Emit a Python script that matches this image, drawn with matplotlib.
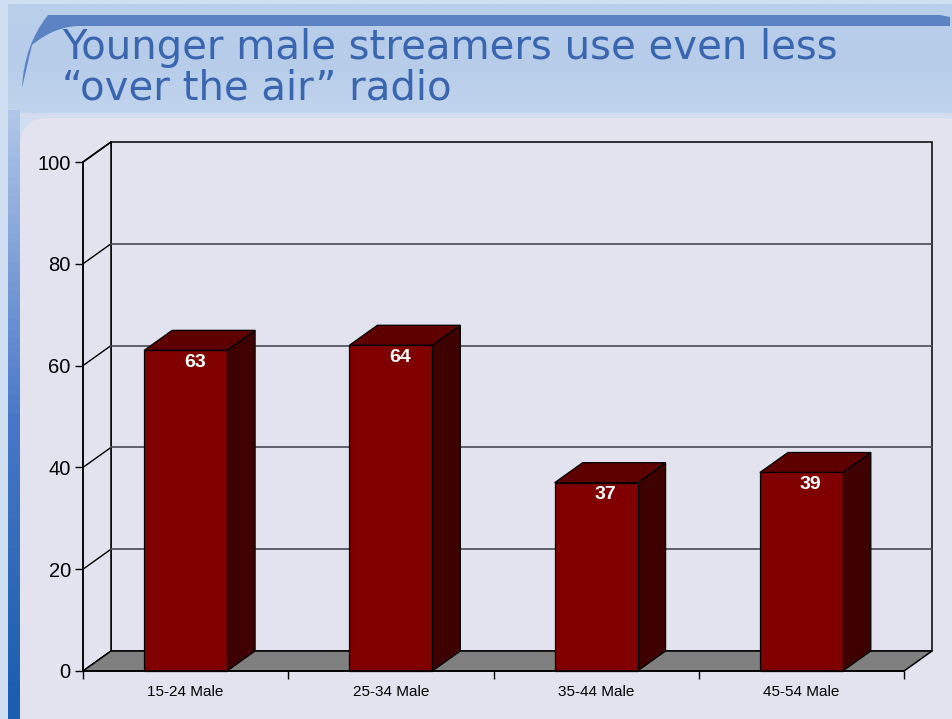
import numpy as np
import matplotlib.pyplot as plt
from matplotlib.colors import LinearSegmentedColormap
from matplotlib.patches import Polygon, Rectangle, FancyBboxPatch, PathPatch
from matplotlib.path import Path

plt.rcParams['font.family'] = ['Liberation Sans', 'DejaVu Sans']

categories = ["15-24 Male", "25-34 Male", "35-44 Male", "45-54 Male"]
values = [63, 64, 37, 39]
y_ticks = [0, 20, 40, 60, 80, 100]
title_lines = ["Younger male streamers use even less", "\u201cover the air\u201d radio"]

W, H = 952, 719
fig = plt.figure(figsize=(W / 100, H / 100), dpi=100)

# ---- slide background (pixel coordinates) ----
bg = fig.add_axes([0, 0, 1, 1])
bg.set_xlim(0, W)
bg.set_ylim(H, 0)
bg.axis('off')
bg.add_patch(Rectangle((0, 0), W, H, color='#d0def2', zorder=0))
ramp = np.linspace(0, 1, 64).reshape(-1, 1)
bg.imshow(ramp, extent=(8, W, 118, 4), aspect='auto', zorder=1,
          cmap=LinearSegmentedColormap.from_list('hd', ['#b9cfea', '#b6cce9', '#c3d5ee']))
bg.imshow(ramp, extent=(8, 20, H, 110), aspect='auto', zorder=1,
          cmap=LinearSegmentedColormap.from_list('sd', ['#b0c6e8', '#4a78c8', '#1a5cae']))
# blue swoosh across the header
verts = [(22, 88), (24, 45), (48, 15), (80, 15), (940, 15), (950, 17), (950, 26),
         (80, 26), (55, 26), (32, 45), (22, 88)]
codes = [Path.MOVETO, Path.CURVE3, Path.CURVE3, Path.LINETO, Path.LINETO, Path.LINETO,
         Path.LINETO, Path.LINETO, Path.CURVE3, Path.CURVE3, Path.CLOSEPOLY]
bg.add_patch(PathPatch(Path(verts, codes), facecolor='#5b83c3', edgecolor='none', zorder=2))
# content panel
bg.add_patch(FancyBboxPatch((20, 118), W, H, boxstyle='round,pad=0,rounding_size=28',
                            facecolor='#e3e3f0', edgecolor='none', zorder=2))
bg.add_patch(Rectangle((20, 113), W, 6, facecolor='#d2dcee', edgecolor='none', zorder=1.5))

for k, line in enumerate(title_lines):
    fig.text(62 / W, 1 - (59 + 41 * k) / H, line, family='DejaVu Sans', fontsize=29,
             color='#3a66b0', ha='left', va='baseline')

# ---- chart ----
left, bottom, right, top = 83, 671, 904, 162
ax = fig.add_axes([left / W, 1 - bottom / H, (right - left) / W, (bottom - top) / H])
ax.set_xlim(-0.5, len(categories) - 0.5)
ax.set_ylim(0, 100)
ax.patch.set_visible(False)

# depth of the 3-D box in data units (28 px right, 20 px up)
dx = 28 / ((right - left) / len(categories))
dy = 20 / ((bottom - top) / 100)
x0, x1 = -0.5, len(categories) - 0.5
width = 0.404

wall_kw = dict(facecolor='#e3e3f0', edgecolor='black', linewidth=1.1, clip_on=False, zorder=0.5)
ax.add_patch(Rectangle((x0 + dx, dy), x1 - x0, 100, **wall_kw))
ax.add_patch(Polygon([(x0, 0), (x0, 100), (x0 + dx, 100 + dy), (x0 + dx, dy)], closed=True, **wall_kw))

for t in y_ticks[1:-1]:
    ax.plot([x0, x0 + dx], [t, t + dy], color='black', lw=1, clip_on=False, zorder=0.8)
    ax.plot([x0 + dx, x1 + dx], [t + dy, t + dy], color='#4a4a55', lw=1.2, clip_on=False, zorder=0.8)
ax.plot([x0, x0 + dx], [100, 100 + dy], color='black', lw=1.1, clip_on=False, zorder=0.8)

ax.add_patch(Polygon([(x0, 0), (x1, 0), (x1 + dx, dy), (x0 + dx, dy)], closed=True,
                     facecolor='#808080', edgecolor='black', linewidth=1.1, clip_on=False, zorder=1))

for i, v in enumerate(values):
    a, b = i - width / 2, i + width / 2
    kw = dict(closed=True, edgecolor='black', linewidth=0.9, clip_on=False, zorder=2)
    ax.add_patch(Polygon([(b, 0), (b + dx, dy), (b + dx, v + dy), (b, v)], facecolor='#3e0000', **kw))
    ax.add_patch(Polygon([(a, v), (b, v), (b + dx, v + dy), (a + dx, v + dy)], facecolor='#5e0000', **kw))
    ax.add_patch(Polygon([(a, 0), (b, 0), (b, v), (a, v)], facecolor='#800000', **kw))
    ax.annotate(str(v), xy=(i, v), xytext=(6.5, -8.6), textcoords='offset points',
                ha='center', va='center', color='white', fontweight='bold', fontsize=14, zorder=3)

for s in ['top', 'right']:
    ax.spines[s].set_visible(False)
for s in ['left', 'bottom']:
    ax.spines[s].set_linewidth(1.1)
    ax.spines[s].set_zorder(2.5)

ax.set_yticks(y_ticks)
ax.tick_params(axis='y', direction='out', length=5.8, width=1, pad=3, labelsize=14.5)
ax.set_xticks(np.arange(len(categories) + 1) - 0.5)
ax.set_xticklabels([])
ax.set_xticks(np.arange(len(categories)), minor=True)
ax.set_xticklabels(categories, minor=True)
ax.tick_params(axis='x', which='major', direction='out', length=5.8, width=1)
ax.tick_params(axis='x', which='minor', length=0, pad=10, labelsize=11)

fig.savefig('out.png', dpi=100)
